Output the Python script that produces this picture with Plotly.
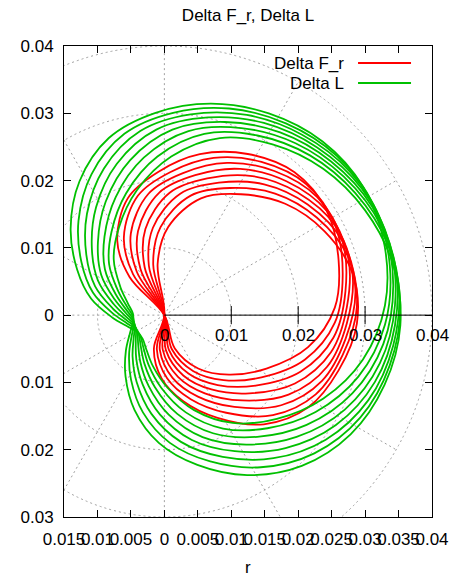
import numpy as np
import plotly.graph_objects as go

# ---- data (polar: angle in degrees, radius) ----
red_theta_deg = [-100, -90, -75, -60, -45, -30, -15, 0, 15, 30, 45, 60, 75, 90, 105, 115, 125]
red_r = [0.0, 0.0052, 0.0094, 0.0131, 0.0172, 0.0220, 0.0255, 0.0273, 0.0288, 0.0288,
         0.0270, 0.0245, 0.0213, 0.0182, 0.0131, 0.0077, 0.0]

green_theta_deg = [-90, -75, -60, -45, -30, -15, 0, 15, 30, 45, 60, 75, 90, 105, 120,
                   135, 150, 165, 180, 195, 210, 225, 240, 255, 270]
green_r = [0.0148, 0.0190, 0.0228, 0.0268, 0.0304, 0.0330, 0.0345, 0.0353, 0.0350, 0.0338,
           0.0322, 0.0301, 0.0276, 0.0236, 0.0190, 0.0147, 0.0112, 0.0078, 0.0057, 0.0047,
           0.0048, 0.0058, 0.0078, 0.0108, 0.0148]

# each family is drawn as 8 curves, turned by these angles (degrees)
curve_rotation_deg = [-17.5, -12.5, -7.5, -2.5, 2.5, 7.5, 12.5, 17.5]

x_tick_vals = [-0.015, -0.01, -0.005, 0, 0.005, 0.01, 0.015, 0.02, 0.025, 0.03, 0.035, 0.04]
x_tick_text = ["0.015", "0.01", "0.005", "0", "0.005", "0.01", "0.015", "0.02", "0.025",
               "0.03", "0.035", "0.04"]
y_tick_vals = [-0.03, -0.02, -0.01, 0, 0.01, 0.02, 0.03, 0.04]
y_tick_text = ["0.03", "0.02", "0.01", "0", "0.01", "0.02", "0.03", "0.04"]

r_ring_vals = [0.01, 0.02, 0.03, 0.04]
r_label_vals = [0, 0.01, 0.02, 0.03, 0.04]
r_label_text = ["0", "0.01", "0.02", "0.03", "0.04"]
spoke_angles_deg = [0, 30, 60, 90, 120, 150, 180, 210, 240, 270, 300, 330]

RED = "#ff0000"
GREEN = "#00c000"
GRID = "#a0a0a0"
FONT = "Liberation Sans, Arial, sans-serif"

fig = go.Figure()


def add_family(theta_deg, r, color):
    r = np.array(r)
    for rot in curve_rotation_deg:
        th = np.radians(np.array(theta_deg) + rot)
        fig.add_trace(go.Scatter(
            x=r * np.cos(th), y=r * np.sin(th), mode="lines",
            line=dict(color=color, width=1.8, shape="spline", smoothing=1.0),
            showlegend=False, hoverinfo="skip"))


add_family(red_theta_deg, red_r, RED)
add_family(green_theta_deg, green_r, GREEN)

# radial tick marks on the polar axis
fig.add_trace(go.Scatter(
    x=r_ring_vals[:-1], y=[0] * (len(r_ring_vals) - 1), mode="markers",
    marker=dict(symbol="line-ns", size=13, line=dict(color="black", width=1)),
    showlegend=False, hoverinfo="skip"))

shapes = []
rmax = r_ring_vals[-1]
for rr in r_ring_vals:
    shapes.append(dict(type="circle", xref="x", yref="y", x0=-rr, y0=-rr, x1=rr, y1=rr,
                       line=dict(color=GRID, width=1, dash="2px,3px"), layer="below"))
for a in spoke_angles_deg:
    t = np.radians(a)
    shapes.append(dict(type="line", xref="x", yref="y", x0=0, y0=0,
                       x1=rmax * np.cos(t), y1=rmax * np.sin(t),
                       line=dict(color=GRID, width=1, dash="2px,3px"), layer="below"))
# polar axis line
shapes.append(dict(type="line", xref="x", yref="y", x0=0, y0=0, x1=rmax, y1=0,
                   line=dict(color="black", width=1), layer="above"))
# legend samples
shapes.append(dict(type="line", xref="paper", yref="paper", x0=0.799, x1=0.943,
                   y0=0.9639, y1=0.9639, line=dict(color=RED, width=1.8)))
shapes.append(dict(type="line", xref="paper", yref="paper", x0=0.799, x1=0.943,
                   y0=0.9214, y1=0.9214, line=dict(color=GREEN, width=1.8)))

annotations = []
for v, txt in zip(r_label_vals, r_label_text):
    annotations.append(dict(x=v, y=0, xref="x", yref="y", text=txt, showarrow=False,
                            yshift=-20, font=dict(size=17, family=FONT, color="black")))
annotations.append(dict(x=0.7663, y=0.9639, xref="paper", yref="paper", text="Delta F_r",
                        showarrow=False, xanchor="right", yanchor="middle",
                        font=dict(size=17, family=FONT, color="black")))
annotations.append(dict(x=0.7663, y=0.9214, xref="paper", yref="paper", text="Delta L",
                        showarrow=False, xanchor="right", yanchor="middle",
                        font=dict(size=17, family=FONT, color="black")))
annotations.append(dict(x=0.5, y=0, xref="paper", yref="paper", text="r", showarrow=False,
                        yshift=-50, yanchor="middle",
                        font=dict(size=17, family=FONT, color="black")))

fig.update_layout(
    width=451, height=582,
    margin=dict(l=64, r=19, t=46, b=65, autoexpand=False),
    plot_bgcolor="white", paper_bgcolor="white",
    showlegend=False,
    font=dict(family=FONT, size=17, color="black"),
    title=dict(text="Delta F_r, Delta L", x=0.5, xref="paper", xanchor="center",
               y=1 - 15 / 582, yref="container", yanchor="middle",
               font=dict(size=17, family=FONT, color="black")),
    shapes=shapes,
    annotations=annotations,
)

fig.update_xaxes(range=[-0.015, 0.04], tickmode="array", tickvals=x_tick_vals,
                 ticktext=x_tick_text, ticks="inside", ticklen=7, tickcolor="black",
                 showline=True, linecolor="black", linewidth=1, mirror="ticks",
                 showgrid=False, zeroline=False, ticklabelstandoff=7, tickangle=0,
                 automargin=False,
                 tickfont=dict(size=17, family=FONT, color="black"))
fig.update_yaxes(range=[-0.03, 0.04], tickmode="array", tickvals=y_tick_vals,
                 ticktext=y_tick_text, ticks="inside", ticklen=7, tickcolor="black",
                 showline=True, linecolor="black", linewidth=1, mirror="ticks",
                 showgrid=False, zeroline=False, ticklabelstandoff=6, automargin=False,
                 tickfont=dict(size=17, family=FONT, color="black"))

fig.write_html("out.html")
